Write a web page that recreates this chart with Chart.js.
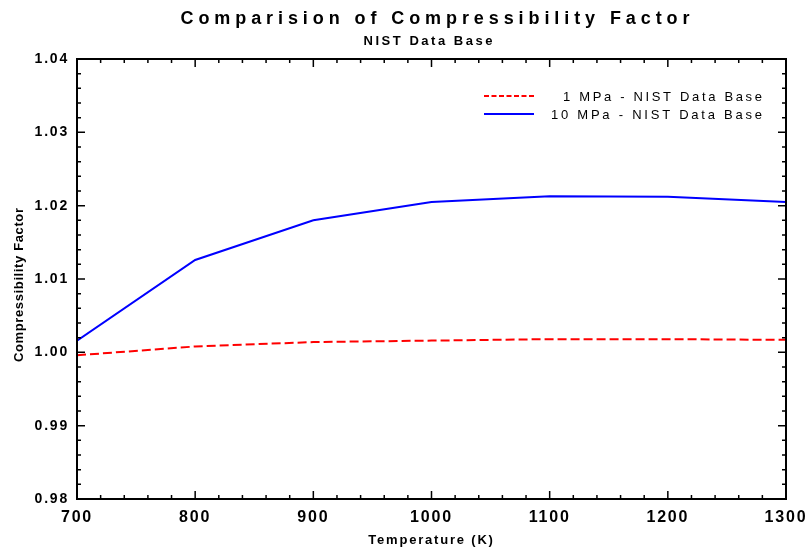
<!DOCTYPE html>
<html lang="en">
<head>
    <meta charset="UTF-8">
    <title>Comparision of Compressibility Factor</title>
    <style>
        body {
            margin: 0;
            background: #ffffff;
        }
        #wrap {
            width: 807px;
            height: 550px;
        }
    </style>
    <script src="https://cdn.jsdelivr.net/npm/chart.js"></script>
</head>
<body>

<div id="wrap"><canvas id="zChart"></canvas></div>

<script>
    // Temperature (K)
    const temps = [700, 800, 900, 1000, 1100, 1200, 1300];

    // Compressibility factor, NIST data base
    const z1MPa  = [0.9996, 1.0008, 1.0014, 1.0016, 1.0018, 1.0018, 1.0017];
    const z10MPa = [1.0016, 1.0126, 1.0180, 1.0205, 1.0213, 1.0212, 1.0205];

    const seriesNames = ['1 MPa - NIST Data Base', '10 MPa - NIST Data Base'];
    const xTicks = [700, 800, 900, 1000, 1100, 1200, 1300];
    const yTicks = [0.98, 0.99, 1.00, 1.01, 1.02, 1.03, 1.04];

    const FONT = '"Liberation Sans", Arial, sans-serif';

    function pts(ys) {
        return temps.map((t, i) => ({ x: t, y: ys[i] }));
    }

    // draw text spread out to a given width
    function spacedText(ctx, text, font, x, y, width, align) {
        ctx.font = font;
        ctx.letterSpacing = '0px';
        const w = ctx.measureText(text).width;
        const sp = (width - w) / (text.length - 1);
        ctx.letterSpacing = sp + 'px';
        ctx.textBaseline = 'alphabetic';
        ctx.textAlign = 'left';
        let x0 = x;
        if (align === 'center') x0 = x - width / 2;
        if (align === 'right') x0 = x - width;
        ctx.fillText(text, x0, y);
        ctx.letterSpacing = '0px';
    }

    const framePlugin = {
        id: 'frame',
        beforeDraw(chart) {
            chart.ctx.letterSpacing = '1.8px';
        },
        afterDraw(chart) {
            const ctx = chart.ctx;
            const a = chart.chartArea;
            const xs = chart.scales.x;
            const ys = chart.scales.y;
            ctx.save();
            ctx.strokeStyle = '#000';
            ctx.lineWidth = 1.5;

            // inward ticks on all four sides
            ctx.beginPath();
            for (let v = 700; v <= 1300; v += 20) {
                const px = xs.getPixelForValue(v);
                const len = (v % 100 === 0) ? 8 : 4;
                ctx.moveTo(px, a.bottom); ctx.lineTo(px, a.bottom - len);
                ctx.moveTo(px, a.top); ctx.lineTo(px, a.top + len);
            }
            for (let k = 0; k <= 30; k++) {
                const v = 0.98 + k * 0.002;
                const py = ys.getPixelForValue(v);
                const len = (k % 5 === 0) ? 8 : 4;
                ctx.moveTo(a.left, py); ctx.lineTo(a.left + len, py);
                ctx.moveTo(a.right, py); ctx.lineTo(a.right - len, py);
            }
            ctx.stroke();

            ctx.lineWidth = 2;
            ctx.strokeRect(a.left, a.top, a.right - a.left, a.bottom - a.top);

            // titles
            ctx.fillStyle = '#000';
            spacedText(ctx, 'Comparision of Compressibility Factor', 'bold 18px ' + FONT, 435, 24, 509, 'center');
            spacedText(ctx, 'NIST Data Base', 'bold 13px ' + FONT, 428, 45, 129, 'center');

            // y axis title, rotated
            ctx.save();
            ctx.translate(23, 285);
            ctx.rotate(-Math.PI / 2);
            spacedText(ctx, 'Compressibility Factor', 'bold 13px ' + FONT, 0, 0, 154, 'center');
            ctx.restore();

            // legend
            const rows = [
                { y: 96, color: '#ff0000', dash: [5, 2.5], text: seriesNames[0], w: 199 },
                { y: 114, color: '#0000ff', dash: [], text: seriesNames[1], w: 211 }
            ];
            rows.forEach(r => {
                ctx.beginPath();
                ctx.setLineDash(r.dash);
                ctx.strokeStyle = r.color;
                ctx.lineWidth = 2;
                ctx.moveTo(484, r.y);
                ctx.lineTo(534, r.y);
                ctx.stroke();
                ctx.setLineDash([]);
                ctx.fillStyle = '#000';
                spacedText(ctx, r.text, '13px ' + FONT, 762, r.y + 5, r.w, 'right');
            });
            ctx.restore();
        }
    };

    new Chart(document.getElementById('zChart'), {
        type: 'line',
        data: {
            datasets: [{
                label: seriesNames[0],
                data: pts(z1MPa),
                borderColor: '#ff0000',
                borderWidth: 2,
                borderDash: [9, 4],
                pointRadius: 0,
                fill: false
            }, {
                label: seriesNames[1],
                data: pts(z10MPa),
                borderColor: '#0000ff',
                borderWidth: 2,
                pointRadius: 0,
                fill: false
            }]
        },
        options: {
            responsive: true,
            maintainAspectRatio: false,
            animation: false,
            layout: {
                padding: { top: 59, right: 21, left: 0, bottom: 0 }
            },
            plugins: {
                legend: { display: false },
                title: { display: false },
                tooltip: { enabled: false }
            },
            scales: {
                x: {
                    type: 'linear',
                    min: 700,
                    max: 1300,
                    afterFit(s) {
                        s.height = 51;
                        s.paddingLeft = 0;
                        s.paddingRight = 0;
                    },
                    afterBuildTicks(s) { s.ticks = xTicks.map(v => ({ value: v })); },
                    grid: { display: false, drawTicks: false },
                    border: { display: false },
                    ticks: {
                        padding: 9,
                        color: '#000',
                        font: { family: FONT, size: 16, weight: 'bold' },
                        maxRotation: 0,
                        callback: v => String(v)
                    },
                    title: {
                        display: true,
                        text: 'Temperature (K)',
                        color: '#000',
                        font: { family: FONT, size: 13, weight: 'bold' },
                        padding: { top: 0, bottom: 2 }
                    }
                },
                y: {
                    min: 0.98,
                    max: 1.04,
                    afterFit(s) {
                        s.width = 77;
                        s.paddingTop = 0;
                        s.paddingBottom = 0;
                    },
                    afterBuildTicks(s) { s.ticks = yTicks.map(v => ({ value: v })); },
                    grid: { display: false, drawTicks: false },
                    border: { display: false },
                    ticks: {
                        padding: 8,
                        color: '#000',
                        font: { family: FONT, size: 14, weight: 'bold' },
                        callback: v => Number(v).toFixed(2)
                    }
                }
            }
        },
        plugins: [framePlugin]
    });
</script>

</body>
</html>
